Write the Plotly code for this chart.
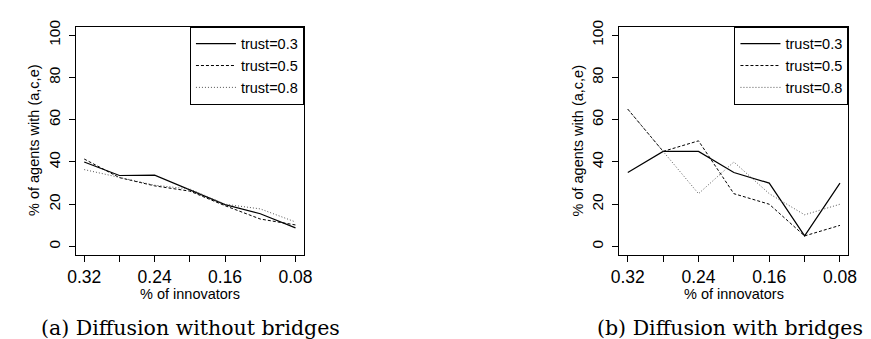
import plotly.graph_objects as go

# ---- data ----
innovators = [0.32, 0.28, 0.24, 0.20, 0.16, 0.12, 0.08]
tick_vals = [0.32, 0.28, 0.24, 0.20, 0.16, 0.12, 0.08]
tick_text = ["0.32", "", "0.24", "", "0.16", "", "0.08"]
y_ticks = [0, 20, 40, 60, 80, 100]

# (a) without bridges
a_trust03 = [40.0, 33.6, 33.8, 26.7, 19.8, 15.5, 8.8]
a_trust05 = [41.4, 32.6, 28.7, 26.2, 19.3, 13.0, 10.2]
a_trust08 = [36.4, 32.6, 29.0, 27.2, 20.0, 17.8, 11.6]
# (b) with bridges
b_trust03 = [35, 45, 45, 35, 30, 5, 30]
b_trust05 = [65, 45, 50, 25, 20, 5, 10]
b_trust08 = [65, 45, 25, 40, 25, 15, 20]

series_names = ["trust=0.3", "trust=0.5", "trust=0.8"]
x_title = "% of innovators"
y_title = "% of agents with (a,c,e)"
captions = ["(a) Diffusion without bridges", "(b) Diffusion with bridges"]

# ---- styling ----
W, H = 871, 339
SANS = "Liberation Sans, Arial, Helvetica, sans-serif"
SERIF = "DejaVu Serif, serif"
styles = [
    dict(color="black", width=1.2, dash="solid"),
    dict(color="black", width=1.0, dash="3px,2px"),
    dict(color="#555555", width=1.0, dash="1px,2px"),
]

def px(x):
    return x / W

def py(y):
    return 1 - y / H

box_top, box_bot = 12, 245
panels = [(60, 293), (615, 849)]
caption_x = [177, 728]

fig = go.Figure()

for i, (ys, leg) in enumerate([([a_trust03, a_trust05, a_trust08], "legend"),
                                ([b_trust03, b_trust05, b_trust08], "legend2")]):
    xa = "x" if i == 0 else "x2"
    ya = "y" if i == 0 else "y2"
    for name, vals, st in zip(series_names, ys, styles):
        fig.add_trace(go.Scatter(
            x=innovators, y=vals, mode="lines", name=name,
            line=st, xaxis=xa, yaxis=ya, legend=leg, showlegend=True,
            hoverinfo="skip",
        ))

axis_common = dict(
    showgrid=False, zeroline=False, showline=True, mirror=True,
    linecolor="black", linewidth=1, ticks="outside", ticklen=6,
    tickcolor="black", tickwidth=1,
)

for i, (l, r) in enumerate(panels):
    sfx = "" if i == 0 else str(i + 1)
    fig.layout["xaxis" + sfx] = dict(
        axis_common, domain=[px(l), px(r)], range=[0.3296, 0.0704],
        tickmode="array", tickvals=tick_vals, ticktext=tick_text,
        tickfont=dict(family=SANS, size=17.5, color="black"),
        anchor="y" + sfx,
    )
    fig.layout["yaxis" + sfx] = dict(
        axis_common, domain=[py(box_bot), py(box_top)], range=[-4, 104],
        tickmode="array", tickvals=y_ticks, tickangle=-90,
        tickfont=dict(family=SANS, size=15.5, color="black"),
        ticklabelstandoff=3,
        anchor="x" + sfx,
    )

leg_common = dict(
    bgcolor="white", bordercolor="black", borderwidth=1,
    font=dict(family=SANS, size=14.5, color="black"),
    xanchor="right", yanchor="top", y=py(box_top),
    tracegroupgap=0, itemwidth=40,
)
fig.update_layout(
    legend=dict(leg_common, x=px(panels[0][1])),
    legend2=dict(leg_common, x=px(panels[1][1])),
)

ann = []
for i, (l, r) in enumerate(panels):
    cx = (l + r) / 2
    ann.append(dict(text=x_title, x=px(cx), y=py(285), xref="paper", yref="paper",
                    showarrow=False, font=dict(family=SANS, size=14.5, color="black"),
                    xanchor="center", yanchor="middle"))
    ann.append(dict(text=y_title, x=px(l - 42), y=py(128), xref="paper", yref="paper",
                    showarrow=False, textangle=-90,
                    font=dict(family=SANS, size=14.5, color="black"),
                    xanchor="center", yanchor="middle"))
    ann.append(dict(text=captions[i], x=px(caption_x[i]), y=py(320), xref="paper", yref="paper",
                    showarrow=False, font=dict(family=SERIF, size=20.5, color="black"),
                    xanchor="center", yanchor="middle"))

fig.update_layout(
    width=W, height=H, margin=dict(l=0, r=0, t=0, b=0),
    paper_bgcolor="white", plot_bgcolor="white",
    annotations=ann,
)

fig.write_html("out.html")
